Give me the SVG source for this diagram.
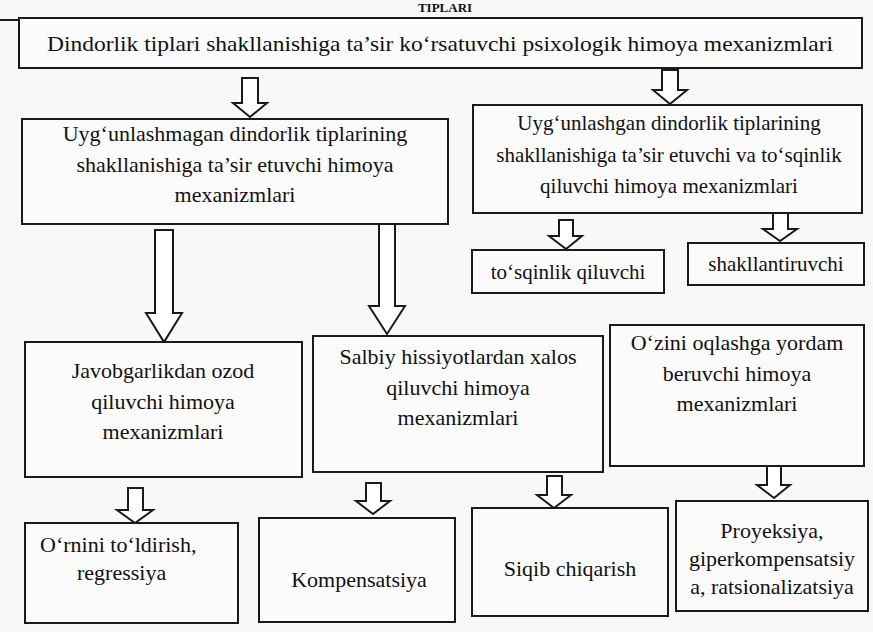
<svg xmlns="http://www.w3.org/2000/svg" width="873" height="632" viewBox="0 0 873 632" font-family="Liberation Serif, serif">
<style>
.box{fill:#fbfbfb;stroke:#1a1a1a;stroke-width:2}
.arr{fill:#ffffff;stroke:#1a1a1a;stroke-width:2}
.t{font-family:'Liberation Serif',serif;fill:#111}
.c{text-anchor:middle}
</style>
<rect x="0" y="0" width="873" height="632" fill="#f8f8f8"/>
<text class="t c" x="445" y="12" font-weight="bold" font-size="13">TIPLARI</text>
<line x1="0" y1="20" x2="20" y2="20" stroke="#1a1a1a" stroke-width="2"/>

<g id="connectors">
  <path class="arr" d="M242 78 H258 V103 H267 L250 117 L233 103 H242 Z"/>
  <path class="arr" d="M662 70 H678 V90 H687 L670 104 L653 90 H662 Z"/>
  <path class="arr" d="M155 230 H173 V313 H182 L164 342 L146 313 H155 Z"/>
  <path class="arr" d="M379 224 H395 V306 H405 L387 334 L369 306 H379 Z"/>
  <path class="arr" d="M559 220 H573 V236 H582 L566 249 L549 236 H559 Z"/>
  <path class="arr" d="M773 212 H788 V229 H797 L780 241 L763 229 H773 Z"/>
  <path class="arr" d="M128 488 H143 V510 H153 L135 523 L117 510 H128 Z"/>
  <path class="arr" d="M366 483 H381 V501 H390 L373 514 L356 501 H366 Z"/>
  <path class="arr" d="M547 476 H562 V495 H571 L554 508 L537 495 H547 Z"/>
  <path class="arr" d="M767 466 H781 V485 H790 L774 498 L757 485 H767 Z"/>
</g>

<g id="n-top" font-size="21">
  <rect class="box" x="19" y="18" width="843" height="50"/>
  <text class="t c" x="440" y="51" textLength="786" lengthAdjust="spacingAndGlyphs">Dindorlik tiplari shakllanishiga ta’sir ko‘rsatuvchi psixologik himoya mexanizmlari</text>
</g>

<g id="n-unharm" font-size="22">
  <rect class="box" x="22" y="119" width="426" height="105"/>
  <text class="t c" x="235" y="141">Uyg‘unlashmagan dindorlik tiplarining</text>
  <text class="t c" x="235" y="172">shakllanishiga ta’sir etuvchi  himoya</text>
  <text class="t c" x="235" y="202">mexanizmlari</text>
</g>

<g id="n-harm" font-size="21">
  <rect class="box" x="473" y="105" width="389" height="108"/>
  <text class="t c" x="669" y="130">Uyg‘unlashgan dindorlik tiplarining</text>
  <text class="t c" x="669" y="162">shakllanishiga ta’sir etuvchi va to‘sqinlik</text>
  <text class="t c" x="669" y="193">qiluvchi himoya mexanizmlari</text>
</g>

<g id="n-tosqin" font-size="21">
  <rect class="box" x="472" y="250" width="192" height="43"/>
  <text class="t c" x="568" y="279">to‘sqinlik qiluvchi</text>
</g>

<g id="n-shakl" font-size="21">
  <rect class="box" x="688" y="243" width="176" height="42"/>
  <text class="t c" x="776" y="271">shakllantiruvchi</text>
</g>

<g id="n-javob" font-size="22">
  <rect class="box" x="25" y="342" width="277" height="135"/>
  <text class="t c" x="163" y="378">Javobgarlikdan ozod</text>
  <text class="t c" x="163" y="409">qiluvchi himoya</text>
  <text class="t c" x="163" y="439">mexanizmlari</text>
</g>

<g id="n-salbiy" font-size="22">
  <rect class="box" x="313" y="336" width="290" height="136"/>
  <text class="t c" x="458" y="364">Salbiy hissiyotlardan xalos</text>
  <text class="t c" x="458" y="395">qiluvchi himoya</text>
  <text class="t c" x="458" y="425">mexanizmlari</text>
</g>

<g id="n-ozini" font-size="22">
  <rect class="box" x="610" y="325" width="254" height="141"/>
  <text class="t c" x="737" y="350">O‘zini oqlashga yordam</text>
  <text class="t c" x="737" y="381">beruvchi himoya</text>
  <text class="t c" x="737" y="411">mexanizmlari</text>
</g>

<g id="n-ornini" font-size="22">
  <rect class="box" x="25" y="523" width="213" height="100"/>
  <text class="t" x="40" y="552">O‘rnini to‘ldirish,</text>
  <text class="t" x="77" y="580">regressiya</text>
</g>

<g id="n-kompens" font-size="22">
  <rect class="box" x="259" y="518" width="196" height="104"/>
  <text class="t c" x="359" y="587">Kompensatsiya</text>
</g>

<g id="n-siqib" font-size="22">
  <rect class="box" x="472" y="508" width="196" height="108"/>
  <text class="t c" x="570" y="576">Siqib chiqarish</text>
</g>

<g id="n-proyek" font-size="22">
  <rect class="box" x="676" y="501" width="192" height="110"/>
  <text class="t c" x="772" y="538">Proyeksiya,</text>
  <text class="t c" x="772" y="566">giperkompensatsiy</text>
  <text class="t c" x="772" y="594">a, ratsionalizatsiya</text>
</g>
</svg>
